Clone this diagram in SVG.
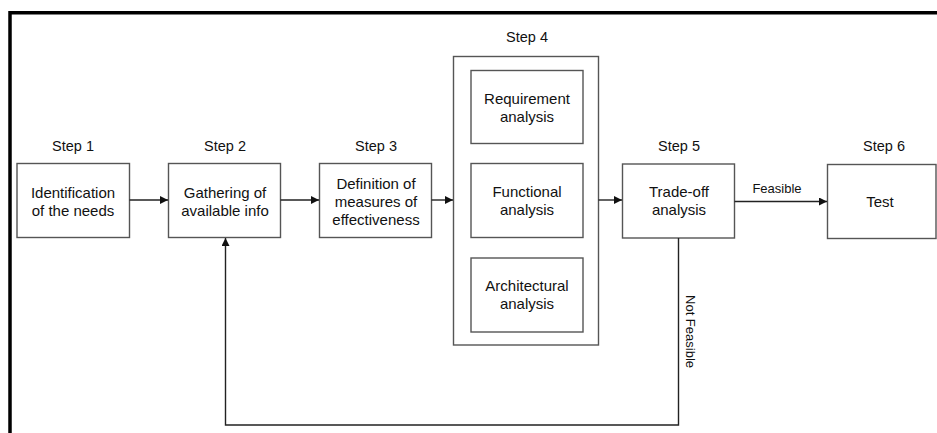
<svg xmlns="http://www.w3.org/2000/svg" width="937" height="433" viewBox="0 0 937 433">
<style>
.box{fill:#fff;stroke:#555;stroke-width:1.4}
.t{font-family:"Liberation Sans",Arial,sans-serif;font-size:15px;fill:#111;text-anchor:middle}
.s{font-family:"Liberation Sans",Arial,sans-serif;font-size:14.5px;fill:#111;text-anchor:middle}
.l{font-family:"Liberation Sans",Arial,sans-serif;font-size:13px;fill:#111;text-anchor:middle}
.c{fill:none;stroke:#222;stroke-width:1.4}
</style>
<defs>
<marker id="ah" viewBox="0 0 10 10" refX="10" refY="5" markerWidth="9" markerHeight="8" markerUnits="userSpaceOnUse" orient="auto">
<path d="M0,0 L10,5 L0,10 z" fill="#111"/>
</marker>
</defs>
<rect width="937" height="433" fill="#fff"/>
<path d="M10,433 V12.75 H937" fill="none" stroke="#000" stroke-width="3.5"/>

<g id="step1">
<text class="s" x="73" y="151">Step 1</text>
<rect class="box" x="17" y="163.5" width="112.5" height="74"/>
<text class="t" x="73" y="197.5">Identification</text>
<text class="t" x="73" y="215.5">of the needs</text>
</g>
<g id="step2">
<text class="s" x="225" y="151">Step 2</text>
<rect class="box" x="168.5" y="163.5" width="112" height="74"/>
<text class="t" x="225" y="197.5">Gathering of</text>
<text class="t" x="225" y="215.5">available info</text>
</g>
<g id="step3">
<text class="s" x="376" y="151">Step 3</text>
<rect class="box" x="319.5" y="163.5" width="112" height="74"/>
<text class="t" x="376" y="188.5">Definition of</text>
<text class="t" x="376" y="206.5">measures of</text>
<text class="t" x="376" y="224.5">effectiveness</text>
</g>
<g id="step4">
<text class="s" x="527" y="42">Step 4</text>
<rect class="box" x="453.5" y="56.5" width="145" height="288.5"/>
</g>
<g id="requirement">
<rect class="box" x="471" y="70.5" width="112" height="73"/>
<text class="t" x="527" y="103.5">Requirement</text>
<text class="t" x="527" y="121.5">analysis</text>
</g>
<g id="functional">
<rect class="box" x="471" y="163.5" width="112" height="74"/>
<text class="t" x="527" y="197">Functional</text>
<text class="t" x="527" y="215">analysis</text>
</g>
<g id="architectural">
<rect class="box" x="471" y="258" width="112" height="74"/>
<text class="t" x="527" y="291">Architectural</text>
<text class="t" x="527" y="309">analysis</text>
</g>
<g id="step5">
<text class="s" x="679" y="151">Step 5</text>
<rect class="box" x="622.5" y="164" width="112" height="74"/>
<text class="t" x="679" y="197">Trade-off</text>
<text class="t" x="679" y="215">analysis</text>
</g>
<g id="step6">
<text class="s" x="884" y="151">Step 6</text>
<rect class="box" x="827.5" y="164.5" width="108.5" height="74"/>
<text class="t" x="880" y="207">Test</text>
</g>

<g id="connectors">
<path class="c" d="M129.5,200 H168" marker-end="url(#ah)"/>
<path class="c" d="M280.5,200 H319" marker-end="url(#ah)"/>
<path class="c" d="M431.5,200 H453" marker-end="url(#ah)"/>
<path class="c" d="M598.5,200 H622" marker-end="url(#ah)"/>
<path class="c" d="M734.5,201.5 H827" marker-end="url(#ah)"/>
<text class="l" x="777" y="193">Feasible</text>
<path class="c" d="M678.5,238 V425 H225.5 V238" marker-end="url(#ah)"/>
<text class="l" transform="translate(686,331.5) rotate(90)" x="0" y="0">Not Feasible</text>
</g>
</svg>
